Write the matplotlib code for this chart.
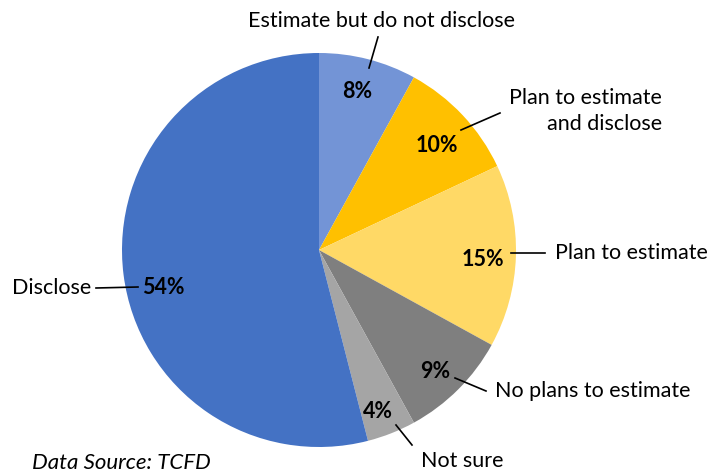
import matplotlib.pyplot as plt

# data
categories = ['Estimate but do not disclose', 'Plan to estimate\nand disclose',
              'Plan to estimate', 'No plans to estimate', 'Not sure', 'Disclose']
shares = [8, 10, 15, 9, 4, 54]
colors = ['#7394D6', '#FFC000', '#FFD966', '#7F7F7F', '#A5A5A5', '#4472C4']

W, H = 715, 475
plt.rcParams['font.family'] = ['Lato', 'DejaVu Sans']

fig = plt.figure(figsize=(W / 100, H / 100), dpi=100)
ax = fig.add_axes([0, 0, 1, 1])

# pie in pixel space (y flipped, so run counterclockwise to look clockwise)
cx, cy, r = 319, 250, 197
ax.pie(shares, colors=colors, startangle=-90, counterclock=True,
       center=(cx, cy), radius=r, frame=True,
       wedgeprops=dict(linewidth=0))
ax.set_xlim(0, W)
ax.set_ylim(H, 0)
ax.set_aspect('equal')
ax.axis('off')

# label layout (pixel positions)
pct_pos = [(357, 92), (437, 146), (483, 260), (435, 372), (378, 411), (163, 288)]
name_pos = [(382, 21, 'center'), (662, 111, 'right'), (555, 253, 'left'),
            (495, 391, 'left'), (421, 461, 'left'), (91, 288, 'right')]
leaders = [((378, 37), (369, 68)), ((500, 113), (461, 130)),
           ((511, 253), (545, 253)), ((455, 378), (486, 391)),
           ((396, 425), (412, 445)), ((96, 288), (138, 287))]

for val, (px, py) in zip(shares, pct_pos):
    ax.text(px, py, f'{val}%', ha='center', va='center',
            fontsize=15.5, fontweight='bold', color='black')

for name, (nx, ny, ha) in zip(categories, name_pos):
    ax.text(nx, ny, name, ha=ha, va='center', fontsize=15.5,
            color='black', multialignment=ha if ha != 'center' else 'center',
            linespacing=1.4)

for (x0, y0), (x1, y1) in leaders:
    ax.plot([x0, x1], [y0, y1], color='black', linewidth=1.2)

ax.text(32, 473, 'Data Source: TCFD', ha='left', va='bottom',
        fontsize=16, style='italic', color='black')

fig.savefig('out.png', dpi=100)
